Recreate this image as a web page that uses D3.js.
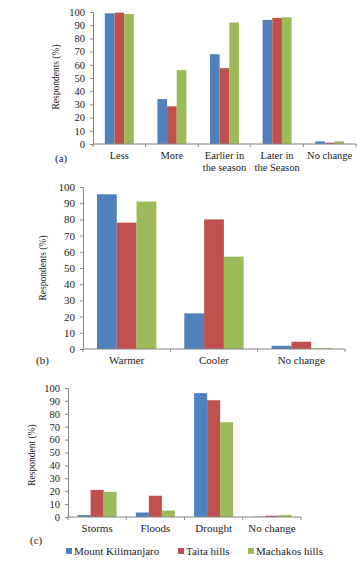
<!DOCTYPE html>
<html>
<head>
<meta charset="utf-8">
<script src="https://cdn.jsdelivr.net/npm/d3@7"></script>
<style>
  body { margin: 0; background: #fff; }
  svg text { font-family: "Liberation Serif", "DejaVu Serif", serif; }
</style>
</head>
<body>
<div id="chart"></div>
<script>
// series + colours
var series = ["Mount Kilimanjaro", "Taita hills", "Machakos hills"];
var colors = ["#4F81BD", "#C0504D", "#9BBB59"];

// (a) rainfall
var catsA = ["Less", "More", "Earlier in\nthe season", "Later in\nthe Season", "No change"];
var kiliA = [99, 34, 68, 94, 2];
var taitaA = [99.5, 28.5, 57.5, 95.5, 1];
var machA = [98.5, 56, 92, 96, 2];

// (b) temperature
var catsB = ["Warmer", "Cooler", "No change"];
var kiliB = [95.5, 22, 2];
var taitaB = [78, 80, 4.5];
var machB = [91, 57, 0.5];

// (c) extreme events
var catsC = ["Storms", "Floods", "Drought", "No change"];
var kiliC = [1.5, 3.5, 96, 0.3];
var taitaC = [21, 16.5, 90.5, 1];
var machC = [19.5, 5, 73.5, 1.5];

var yTicks = [0, 10, 20, 30, 40, 50, 60, 70, 80, 90, 100];
var serif = "'Liberation Serif', 'DejaVu Serif', serif";

var svg = d3.select("#chart").append("svg")
  .attr("width", 357)
  .attr("height", 564);

function drawPanel(p) {
  var x = d3.scaleBand().domain(p.cats).range([p.x0, p.x1]);
  var y = d3.scaleLinear().domain([0, 100]).range([p.y0, p.y100]);
  var bw = x.bandwidth();
  var xs = d3.scaleBand().domain(series)
    .range([bw * (1 - p.f) / 2, bw * (1 + p.f) / 2]);

  var g = svg.append("g").attr("font-family", serif);

  // bars
  p.vals.forEach(function (vals, si) {
    g.selectAll(null)
      .data(vals)
      .enter().append("rect")
      .attr("x", function (d, i) { return x(p.cats[i]) + xs(series[si]); })
      .attr("y", function (d) { return y(d); })
      .attr("width", xs.bandwidth())
      .attr("height", function (d) { return y(0) - y(d); })
      .attr("fill", colors[si]);
  });

  // y axis
  var ya = g.append("g")
    .attr("transform", "translate(" + p.x0 + ",0)")
    .call(d3.axisLeft(y).tickValues(yTicks).tickSize(3).tickPadding(5));
  ya.attr("font-family", serif);
  ya.select(".domain").attr("stroke", "#868686");
  ya.selectAll(".tick line").attr("stroke", "#868686");
  ya.selectAll(".tick text")
    .attr("font-family", serif)
    .attr("font-size", p.tickSize)
    .attr("fill", "#222");

  // x axis line + ticks at category edges
  g.append("line")
    .attr("x1", p.x0).attr("x2", p.x1)
    .attr("y1", y(0)).attr("y2", y(0))
    .attr("stroke", "#868686");
  var edges = p.cats.map(function (c) { return x(c); }).concat([p.x1]);
  g.selectAll(null).data(edges).enter().append("line")
    .attr("x1", function (d) { return d; })
    .attr("x2", function (d) { return d; })
    .attr("y1", y(0)).attr("y2", y(0) + 3)
    .attr("stroke", "#868686");

  // category labels (some on two lines)
  p.cats.forEach(function (c) {
    var t = g.append("text")
      .attr("x", x(c) + bw / 2)
      .attr("y", y(0) + p.labDy)
      .attr("text-anchor", "middle")
      .attr("font-size", p.labSize)
      .attr("fill", "#222");
    c.split("\n").forEach(function (line, li) {
      t.append("tspan")
        .attr("x", x(c) + bw / 2)
        .attr("dy", li === 0 ? 0 : 11.5)
        .text(line);
    });
  });

  // y title
  g.append("text")
    .attr("transform", "translate(" + p.titleX + "," + p.titleY + ") rotate(-90)")
    .attr("text-anchor", "middle")
    .attr("font-size", p.titleSize)
    .attr("fill", "#222")
    .text(p.title);

  // panel letter
  g.append("text")
    .attr("x", p.letterX)
    .attr("y", p.letterY)
    .attr("font-size", 11)
    .attr("fill", "#222")
    .text(p.letter);
}

drawPanel({
  cats: catsA, vals: [kiliA, taitaA, machA],
  x0: 93, x1: 356, y0: 144, y100: 12, f: 0.55,
  tickSize: 10.5, labSize: 10.5, labDy: 15,
  title: "Respondents (%)", titleX: 59, titleY: 77, titleSize: 9.5,
  letter: "(a)", letterX: 55, letterY: 162
});

drawPanel({
  cats: catsB, vals: [kiliB, taitaB, machB],
  x0: 83, x1: 345, y0: 349, y100: 187, f: 0.68,
  tickSize: 11, labSize: 11, labDy: 15,
  title: "Respondents (%)", titleX: 46, titleY: 268, titleSize: 9.5,
  letter: "(b)", letterX: 36, letterY: 364
});

drawPanel({
  cats: catsC, vals: [kiliC, taitaC, machC],
  x0: 68, x1: 301, y0: 517, y100: 388, f: 0.67,
  tickSize: 10.5, labSize: 11, labDy: 15,
  title: "Respondent (%)", titleX: 35, titleY: 455, titleSize: 9.5,
  letter: "(c)", letterX: 30, letterY: 544
});

// legend
var legX = [66, 178, 248];
var leg = svg.append("g").attr("font-family", serif);
series.forEach(function (s, i) {
  leg.append("rect")
    .attr("x", legX[i]).attr("y", 548)
    .attr("width", 6).attr("height", 6)
    .attr("fill", colors[i]);
  leg.append("text")
    .attr("x", legX[i] + 8).attr("y", 555)
    .attr("font-size", 11)
    .attr("fill", "#222")
    .text(s);
});
</script>
</body>
</html>
